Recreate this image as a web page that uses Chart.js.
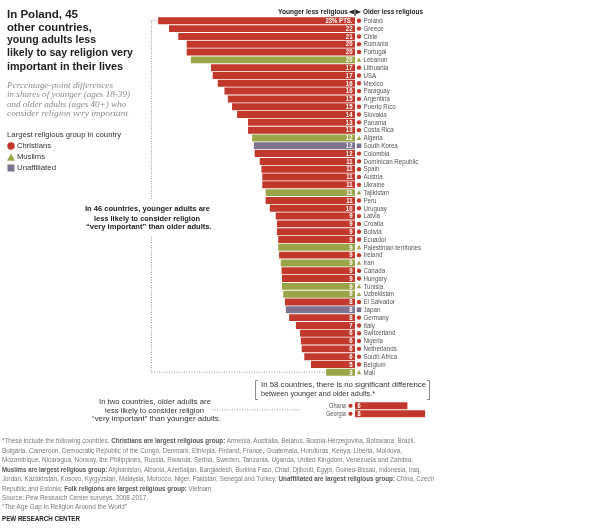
<!DOCTYPE html>
<html>
<head>
<meta charset="utf-8">
<script src="https://cdn.jsdelivr.net/npm/chart.js@4.4.0/dist/chart.umd.min.js"></script>
<style>
  html, body { margin: 0; padding: 0; background: #fff; }
  #page { position: relative; width: 600px; height: 531px; overflow: hidden;
          font-family: "Liberation Sans", Arial, sans-serif; color: #222; }
  canvas { position: absolute; left: 0; top: 0; }
  .t { position: absolute; white-space: nowrap; line-height: 1; transform-origin: 0 50%; }
  .title { font-size: 11.5px; font-weight: bold; color: #1d1d1d; }
  .sub { font-family: "Liberation Serif", "DejaVu Serif", serif; font-style: italic; font-size: 8.6px; color: #8b8b8b; }
  .leg { font-size: 8px; color: #333; }
  .head { font-size: 7.6px; font-weight: bold; color: #222; }
  .note { font-size: 7.6px; font-weight: bold; color: #222; }
  .plain { font-size: 7.6px; color: #333; }
  .foot { font-size: 6.4px; color: #7a7a7a; }
  .foot b { color: #555; }
  .brand { font-size: 6.6px; font-weight: bold; color: #222; }
</style>
</head>
<body>
<div id="page">
  <canvas id="mainChart" width="600" height="531"></canvas>
  <canvas id="reverseChart" width="600" height="531"></canvas>
</div>
<script>
// Countries where younger adults are less religious (percentage-point gap)
const countries = ['Poland', 'Greece', 'Chile', 'Romania', 'Portugal', 'Lebanon', 'Lithuania', 'USA',
  'Mexico', 'Paraguay', 'Argentina', 'Puerto Rico', 'Slovakia', 'Panama', 'Costa Rica', 'Algeria',
  'South Korea', 'Colombia', 'Dominican Republic', 'Spain', 'Austria', 'Ukraine', 'Tajikistan', 'Peru',
  'Uruguay', 'Latvia', 'Croatia', 'Bolivia', 'Ecuador', 'Palestinian territories', 'Ireland', 'Iran',
  'Canada', 'Hungary', 'Tunisia', 'Uzbekistan', 'El Salvador', 'Japan', 'Germany', 'Italy',
  'Switzerland', 'Nigeria', 'Netherlands', 'South Africa', 'Belgium', 'Mali'];
const gaps = [23.4, 22.1, 21.0, 20.0, 20.0, 19.5, 17.1, 16.9, 16.3, 15.5, 15.1, 14.6, 14.0, 12.7, 12.7, 12.2,
  12.0, 11.9, 11.3, 11.1, 11.0, 11.0, 10.6, 10.6, 10.1, 9.4, 9.25, 9.25, 9.1, 9.1, 9.0, 8.8,
  8.7, 8.65, 8.65, 8.5, 8.3, 8.2, 7.8, 7.0, 6.5, 6.4, 6.3, 6.0, 5.2, 3.4];
const gapLabels = ['23% PTS.', '22', '21', '20', '20', '20', '17', '17', '16', '16', '15', '15', '14', '13', '13', '12',
  '12', '12', '11', '11', '11', '11', '11', '11', '10', '9', '9', '9', '9', '9', '9', '9',
  '9', '9', '9', '9', '8', '8', '8', '7', '6', '6', '6', '6', '5', '3'];
const groups = ['C', 'C', 'C', 'C', 'C', 'M', 'C', 'C', 'C', 'C', 'C', 'C', 'C', 'C', 'C', 'M',
  'U', 'C', 'C', 'C', 'C', 'C', 'M', 'C', 'C', 'C', 'C', 'C', 'C', 'M', 'C', 'M',
  'C', 'C', 'M', 'M', 'C', 'U', 'C', 'C', 'C', 'C', 'C', 'C', 'C', 'M'];

// Countries where older adults are less religious
const reverseCountries = ['Ghana', 'Georgia'];
const reverseGaps = [6.2, 8.3];
const reverseLabels = ['6', '8'];
const reverseGroups = ['C', 'C'];

const gapAxisMax = 25;

const groupColors = { C: '#c2392b', M: '#9ba547', U: '#7d7391' };

function drawMarker(ctx, group, x, y, size) {
    ctx.fillStyle = groupColors[group];
    ctx.beginPath();
    if (group === 'C') {
        ctx.arc(x, y, size / 2, 0, Math.PI * 2);
    } else if (group === 'M') {
        ctx.moveTo(x, y - size / 2);
        ctx.lineTo(x + size / 2, y + size / 2.4);
        ctx.lineTo(x - size / 2, y + size / 2.4);
        ctx.closePath();
    } else {
        ctx.rect(x - size / 2, y - size / 2, size, size);
    }
    ctx.fill();
}

// squeeze text horizontally a bit to mimic the condensed Pew font
function squeezeText(ctx, text, x, y, factor) {
    const w = ctx.measureText(text).width;
    ctx.fillText(text, x, y, w * factor);
}

function dotted(ctx, x1, y1, x2, y2) {
    ctx.beginPath();
    ctx.moveTo(x1, y1);
    ctx.lineTo(x2, y2);
    ctx.stroke();
}

const mainLabels = {
    id: 'mainLabels',
    afterDatasetsDraw(chart) {
        const ctx = chart.ctx;
        const bars = chart.getDatasetMeta(0).data;
        ctx.save();
        ctx.textBaseline = 'middle';
        bars.forEach((bar, i) => {
            ctx.font = 'bold 7px "Liberation Sans", Arial, sans-serif';
            ctx.fillStyle = '#fff';
            ctx.textAlign = 'right';
            squeezeText(ctx, gapLabels[i], bar.base - 2.5, bar.y + 0.3, 0.86);
            drawMarker(ctx, groups[i], bar.base + 4, bar.y, groups[i] === 'C' ? 4.4 : 4.6);
            ctx.font = '7px "Liberation Sans", Arial, sans-serif';
            ctx.fillStyle = '#555';
            ctx.textAlign = 'left';
            squeezeText(ctx, countries[i], bar.base + 8.5, bar.y + 0.3, 0.88);
        });

        // dotted bracket linking the 46 countries to the note
        const first = bars[0], last = bars[bars.length - 1];
        ctx.strokeStyle = '#999';
        ctx.lineWidth = 1;
        ctx.setLineDash([1, 1.5]);
        dotted(ctx, 151.5, first.y, first.x - 1, first.y);
        dotted(ctx, 151.5, first.y, 151.5, 199);
        dotted(ctx, 151.5, 237, 151.5, last.y);
        dotted(ctx, 151.5, last.y, last.x - 1, last.y);
        dotted(ctx, 212, 409.8, 300, 409.8);
        ctx.setLineDash([]);

        // square bracket around the "no difference" note
        ctx.strokeStyle = '#8a8a8a';
        ctx.beginPath();
        ctx.moveTo(258, 380.5); ctx.lineTo(255.5, 380.5); ctx.lineTo(255.5, 399.5); ctx.lineTo(258, 399.5);
        ctx.moveTo(427, 380.5); ctx.lineTo(429.5, 380.5); ctx.lineTo(429.5, 399.5); ctx.lineTo(427, 399.5);
        ctx.stroke();

        // legend markers
        drawMarker(ctx, 'C', 11, 146, 7.4);
        drawMarker(ctx, 'M', 11, 157.5, 8);
        drawMarker(ctx, 'U', 11, 168, 7);
        ctx.restore();
    }
};

const reverseBarLabels = {
    id: 'reverseBarLabels',
    afterDatasetsDraw(chart) {
        const ctx = chart.ctx;
        ctx.save();
        ctx.textBaseline = 'middle';
        chart.getDatasetMeta(0).data.forEach((bar, i) => {
            ctx.font = 'bold 6.6px "Liberation Sans", Arial, sans-serif';
            ctx.fillStyle = '#fff';
            ctx.textAlign = 'left';
            squeezeText(ctx, reverseLabels[i], bar.base + 2.5, bar.y + 0.3, 0.86);
            drawMarker(ctx, reverseGroups[i], bar.base - 4.5, bar.y, 4.2);
            ctx.font = '6.4px "Liberation Sans", Arial, sans-serif';
            ctx.fillStyle = '#555';
            ctx.textAlign = 'right';
            squeezeText(ctx, reverseCountries[i], bar.base - 9, bar.y + 0.3, 0.88);
        });
        ctx.restore();
    }
};

function createBarChart(canvasId, labels, values, colors, padding, reverse, plugin) {
    return new Chart(document.getElementById(canvasId).getContext('2d'), {
        type: 'bar',
        data: {
            labels: labels,
            datasets: [{ data: values, backgroundColor: colors, borderWidth: 0, barThickness: 6.3 }]
        },
        options: {
            indexAxis: 'y',
            responsive: false,
            animation: false,
            layout: { padding: padding },
            scales: {
                x: { type: 'linear', min: 0, max: gapAxisMax, reverse: reverse, display: false },
                y: { display: false }
            },
            plugins: { legend: { display: false }, tooltip: { enabled: false } }
        },
        plugins: [plugin]
    });
}

// text blocks: [html, left, centre y, target width, class]
const texts = [
    ['In Poland, 45', 7, 15, 71, 'title'],
    ['other countries,', 7, 27.5, 85, 'title'],
    ['young adults less', 7, 40, 89, 'title'],
    ['likely to say religion very', 7, 53, 126, 'title'],
    ['important in their lives', 7, 66.5, 116, 'title'],
    ['Percentage-point differences', 7, 85, 106, 'sub'],
    ['in shares of younger (ages 18-39)', 7, 94.5, 123, 'sub'],
    ['and older adults (ages 40+) who', 7, 104, 119, 'sub'],
    ['consider religion very important', 7, 113.5, 121, 'sub'],
    ['Largest religious group in country', 7, 135, 114, 'leg'],
    ['Christians', 17, 146, 34, 'leg'],
    ['Muslims', 17, 157, 28, 'leg'],
    ['Unaffiliated', 17, 168, 39, 'leg'],
    ['Younger less religious', 277.7, 11.5, 70, 'head'],
    ['◂|▸', 348.5, 11.5, 12, 'head'],
    ['Older less religious', 362.7, 11.5, 60, 'head'],
    ['In 46 countries, younger adults are', 85, 209.3, 125, 'note'],
    ['less likely to consider religion', 94.3, 218.7, 106, 'note'],
    ['“very important” than older adults.', 86, 227.3, 125.7, 'note'],
    ['In 58 countries, there is no significant difference', 260.7, 385.3, 165, 'plain'],
    ['between younger and older adults.*', 260.7, 394, 114, 'plain'],
    ['In two countries, older adults are', 99, 402.3, 112, 'plain'],
    ['less likely to consider religion', 105, 410.7, 99, 'plain'],
    ['“very important” than younger adults.', 92, 419, 129, 'plain'],
    ['*These include the following countries. <b>Christians are largest religious group:</b> Armenia, Australia, Belarus, Bosnia-Herzegovina, Botswana, Brazil,', 2, 441, 413, 'foot'],
    ['Bulgaria, Cameroon, Democratic Republic of the Congo, Denmark, Ethiopia, Finland, France, Guatemala, Honduras, Kenya, Liberia, Moldova,', 2, 450.5, 400, 'foot'],
    ['Mozambique, Nicaragua, Norway, the Philippines, Russia, Rwanda, Serbia, Sweden, Tanzania, Uganda, United Kingdom, Venezuela and Zambia;', 2, 460, 411, 'foot'],
    ['<b>Muslims are largest religious group:</b> Afghanistan, Albania, Azerbaijan, Bangladesh, Burkina Faso, Chad, Djibouti, Egypt, Guinea-Bissau, Indonesia, Iraq,', 2, 469.5, 419, 'foot'],
    ['Jordan, Kazakhstan, Kosovo, Kyrgyzstan, Malaysia, Morocco, Niger, Pakistan, Senegal and Turkey; <b>Unaffiliated are largest religious group:</b> China, Czech', 2, 479, 432, 'foot'],
    ['Republic and Estonia; <b>Folk religions are largest religious group:</b> Vietnam.', 2, 488.5, 211, 'foot'],
    ['Source: Pew Research Center surveys, 2008-2017.', 2, 497.5, 146, 'foot'],
    ['“The Age Gap in Religion Around the World”', 2, 506.5, 125, 'foot'],
    ['PEW RESEARCH CENTER', 2, 519.5, 78, 'brand']
];

function placeTexts() {
    const page = document.getElementById('page');
    texts.forEach(([html, x, y, w, cls]) => {
        const el = document.createElement('div');
        el.className = 't ' + cls;
        el.innerHTML = html;
        page.appendChild(el);
        const natural = el.getBoundingClientRect().width;
        el.style.left = x + 'px';
        el.style.top = (y - el.offsetHeight / 2) + 'px';
        if (natural) el.style.transform = `scaleX(${w / natural})`;
    });
}

window.onload = function() {
    createBarChart('mainChart', countries, gaps, groups.map(g => groupColors[g]),
        { left: 145, right: 245, top: 16.9, bottom: 531 - 376.2 }, true, mainLabels);
    createBarChart('reverseChart', reverseCountries, reverseGaps, reverseGroups.map(g => groupColors[g]),
        { left: 355, right: 35, top: 401.8, bottom: 531 - 417.8 }, false, reverseBarLabels);
    placeTexts();
};
</script>
</body>
</html>
